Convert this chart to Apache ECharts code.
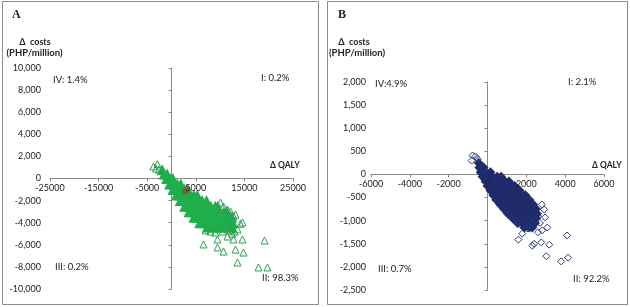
<!DOCTYPE html>
<html>
<head>
<meta charset="utf-8">
<script src="https://cdn.jsdelivr.net/npm/echarts@6/dist/echarts.min.js"></script>
<style>
  html, body { margin: 0; padding: 0; background: #fff; }
  #main { width: 630px; height: 307px; }
</style>
</head>
<body>
<div id="main"></div>
<script>
// panel A: dense part of the cloud
var coreA = [
  [-1900, 800],
  [-1500, 400], [-900, 400],
  [-1000, 0], [-300, 0], [300, 0],
  [-400, -500], [400, -500], [1200, -500], [1900, -500],
  [300, -1000], [1100, -1000], [1900, -1000], [2700, -1000], [3400, -1000],
  [1000, -1500], [1900, -1500], [2800, -1500], [3700, -1500], [4600, -1500], [5300, -1500],
  [1800, -2000], [2700, -2000], [3600, -2000], [4500, -2000], [5400, -2000], [6300, -2000], [7200, -2000],
  [2700, -2500], [3600, -2500], [4500, -2500], [5400, -2500], [6300, -2500], [7200, -2500], [8100, -2500], [9000, -2500], [9500, -2500],
  [3600, -3000], [4500, -3000], [5400, -3000], [6300, -3000], [7200, -3000], [8100, -3000], [9000, -3000], [9900, -3000], [10800, -3000], [11400, -3000],
  [4600, -3500], [5500, -3500], [6400, -3500], [7300, -3500], [8200, -3500], [9100, -3500], [10000, -3500], [10900, -3500], [11800, -3500], [12400, -3500],
  [5800, -4000], [6700, -4000], [7600, -4000], [8500, -4000], [9400, -4000], [10300, -4000], [11200, -4000], [12100, -4000], [12600, -4000],
  [7400, -4400], [8300, -4400], [9200, -4400], [10100, -4400], [11000, -4400], [11900, -4400], [12400, -4400]
];
// panel A: single triangles at the edge and outside
var edgeA = [
  [-3700, 1100], [-2900, 1300], [-3200, 900], [-2600, 800],
  [10080, -2170], [10700, -2530], [11520, -2800], [12140, -2990], [13170, -3260], [12760, -3400],
  [14600, -3980], [14200, -4100], [13580, -4610], [12140, -4340], [13000, -4800], [12500, -5000],
  [8000, -4800], [9000, -4900], [10500, -4800], [12000, -4700], [7000, -4700],
  [6580, -5970], [9470, -6240], [10700, -6610], [13170, -6430], [14810, -6700], [13580, -7600],
  [17900, -8050], [19750, -8050], [19140, -5610], [14600, -5520], [12760, -5520], [11520, -5250], [9470, -5520]
];
var meanA = [[2900, -1100]];
var xTicksA = [-25000, -15000, -5000, 5000, 15000, 25000];

// panel B
var coreB = [
  [-450, 250],
  [-420, 150], [-200, 150],
  [-350, 50], [-100, 50], [150, 50],
  [-250, -50], [0, -50], [250, -50], [500, -50], [700, -50],
  [-100, -150], [150, -150], [400, -150], [650, -150], [900, -150], [1100, -150],
  [0, -250], [250, -250], [500, -250], [750, -250], [1000, -250], [1250, -250], [1400, -250],
  [150, -350], [400, -350], [650, -350], [900, -350], [1150, -350], [1400, -350], [1650, -350],
  [300, -450], [550, -450], [800, -450], [1050, -450], [1300, -450], [1550, -450], [1800, -450], [1950, -450],
  [450, -550], [700, -550], [950, -550], [1200, -550], [1450, -550], [1700, -550], [1950, -550], [2150, -550],
  [650, -650], [900, -650], [1150, -650], [1400, -650], [1650, -650], [1900, -650], [2150, -650], [2350, -650],
  [850, -750], [1100, -750], [1350, -750], [1600, -750], [1850, -750], [2100, -750], [2350, -750], [2500, -750],
  [1050, -850], [1300, -850], [1550, -850], [1800, -850], [2050, -850], [2300, -850], [2550, -850],
  [1300, -950], [1550, -950], [1800, -950], [2050, -950], [2300, -950], [2500, -950],
  [1550, -1050], [1800, -1050], [2050, -1050], [2300, -1050], [2450, -1050],
  [1900, -1150], [2150, -1150], [2300, -1150]
];
var edgeB = [
  [-770, 410], [-620, 390], [-820, 300], [-500, 330],
  [2800, -650], [2920, -760], [2970, -930], [2600, -900], [2700, -1050], [3080, -1150], [2820, -1210],
  [2600, -1250], [2050, -1170], [2250, -1050], [1750, -1100], [1380, -1000], [1790, -1280], [2150, -1130], [1100, -870],
  [1590, -1410], [2310, -1540], [2400, -1500], [2770, -1470], [3180, -1520], [3030, -1770],
  [3790, -1880], [4150, -1800], [4100, -1320]
];

var quadA = ['IV: 1.4%', 'I: 0.2%', 'III: 0.2%', 'II: 98.3%'];
var quadB = ['IV:4.9%', 'I: 2.1%', 'III: 0.7%', 'II: 92.2%'];

var font = 'Lato, "Open Sans", sans-serif';
var axisGray = '#8a8a8a';
var green = '#1fae4b';
var navy = '#1f2b6c';

function thousands(v) {
  return String(v).replace(/\B(?=(\d{3})+(?!\d))/g, ',');
}
function plain(v) {
  return String(v);
}

// axis that only draws the line through zero and its ticks
function lineAxis(grid, min, max, interval, ticks) {
  return {
    type: 'value', gridIndex: grid, min: min, max: max, interval: interval,
    axisLine: { onZero: true, lineStyle: { color: axisGray } },
    axisTick: { show: true, length: 3, customValues: ticks, lineStyle: { color: axisGray } },
    axisLabel: { show: false },
    splitLine: { show: false }
  };
}
// labels of the y axis sit at the left edge of the plot
function yLabelAxis(grid, min, max, interval, margin) {
  return {
    type: 'value', gridIndex: grid, min: min, max: max, interval: interval, position: 'left',
    axisLine: { show: false, onZero: false },
    axisTick: { show: false },
    axisLabel: { margin: margin, fontSize: 9, color: '#222', fontFamily: font, formatter: thousands },
    splitLine: { show: false }
  };
}
// labels of the x axis sit under the zero line, drawn above the points
function xLabelAxis(grid, min, max, interval, offset, ticks) {
  return {
    type: 'value', gridIndex: grid, min: min, max: max, interval: interval,
    position: 'bottom', offset: offset, z: 5,
    axisLine: { show: false, onZero: false },
    axisTick: { show: false },
    axisLabel: { customValues: ticks, margin: 5, fontSize: 9, color: '#222', fontFamily: font, formatter: plain },
    splitLine: { show: false }
  };
}
function txt(x, y, s, opt) {
  opt = opt || {};
  return {
    type: 'text', x: x, y: y, silent: true,
    style: {
      text: s, fill: '#222',
      font: (opt.bold ? 'bold ' : '') + (opt.size || 9.5) + 'px ' + (opt.family || font),
      textAlign: opt.align || 'left', textVerticalAlign: 'middle'
    }
  };
}

var myChart = echarts.init(document.getElementById('main'), null, { renderer: 'canvas' });

var option = {
  animation: false,
  grid: [
    { left: 50, top: 68, width: 243, height: 221 },
    { left: 371, top: 82, width: 233, height: 208 }
  ],
  xAxis: [
    lineAxis(0, -25000, 25000, null, xTicksA),
    xLabelAxis(0, -25000, 25000, null, -110.5, xTicksA),
    lineAxis(1, -6000, 6000, 2000),
    xLabelAxis(1, -6000, 6000, 2000, -115.6)
  ],
  yAxis: [
    lineAxis(0, -10000, 10000, 2000),
    yLabelAxis(0, -10000, 10000, 2000, 9),
    lineAxis(1, -2500, 2000, 500),
    yLabelAxis(1, -2500, 2000, 500, 5)
  ],
  series: [
    {
      type: 'scatter', xAxisIndex: 0, yAxisIndex: 0, data: coreA,
      symbol: 'triangle', symbolSize: 11, itemStyle: { color: green, opacity: 1 }
    },
    {
      type: 'scatter', xAxisIndex: 0, yAxisIndex: 0, data: edgeA,
      symbol: 'triangle', symbolSize: 7,
      itemStyle: { color: 'rgba(0,0,0,0)', borderColor: '#2f9d50', borderWidth: 1, opacity: 1 }
    },
    {
      type: 'scatter', xAxisIndex: 0, yAxisIndex: 0, data: meanA,
      symbol: 'circle', symbolSize: 6, itemStyle: { color: '#c0392b', borderColor: '#7a2a1e', borderWidth: 0.5 }
    },
    {
      type: 'scatter', xAxisIndex: 2, yAxisIndex: 2, data: coreB,
      symbol: 'diamond', symbolSize: 10, itemStyle: { color: navy, opacity: 1 }
    },
    {
      type: 'scatter', xAxisIndex: 2, yAxisIndex: 2, data: edgeB,
      symbol: 'diamond', symbolSize: 7,
      itemStyle: { color: 'rgba(0,0,0,0)', borderColor: '#2a3874', borderWidth: 1, opacity: 1 }
    }
  ],
  graphic: [
    { type: 'rect', shape: { x: 2.5, y: 1.5, width: 316, height: 303 }, style: { fill: 'none', stroke: '#8c8c8c', lineWidth: 1 }, silent: true },
    { type: 'rect', shape: { x: 327.5, y: 1.5, width: 300, height: 303 }, style: { fill: 'none', stroke: '#8c8c8c', lineWidth: 1 }, silent: true },
    txt(12, 15, 'A', { bold: true, size: 12, family: '"Liberation Serif", serif' }),
    txt(35, 42, 'Δ  costs', { bold: true, size: 9, align: 'center' }),
    txt(34.5, 53, '(PHP/million)', { bold: true, size: 9.5, align: 'center' }),
    txt(270, 165, 'Δ QALY', { bold: true, size: 8.5 }),
    txt(53, 80, quadA[0]),
    txt(261, 78, quadA[1]),
    txt(55, 267, quadA[2]),
    txt(262, 278, quadA[3]),
    txt(338, 15, 'B', { bold: true, size: 12, family: '"Liberation Serif", serif' }),
    txt(354, 42, 'Δ  costs', { bold: true, size: 9, align: 'center' }),
    txt(357, 53, '(PHP/million)', { bold: true, size: 9.5, align: 'center' }),
    txt(592, 165, 'Δ QALY', { bold: true, size: 8.5 }),
    txt(375, 84, quadB[0]),
    txt(568, 82, quadB[1]),
    txt(378, 269, quadB[2]),
    txt(573, 279, quadB[3])
  ]
};

myChart.setOption(option);
</script>
</body>
</html>
